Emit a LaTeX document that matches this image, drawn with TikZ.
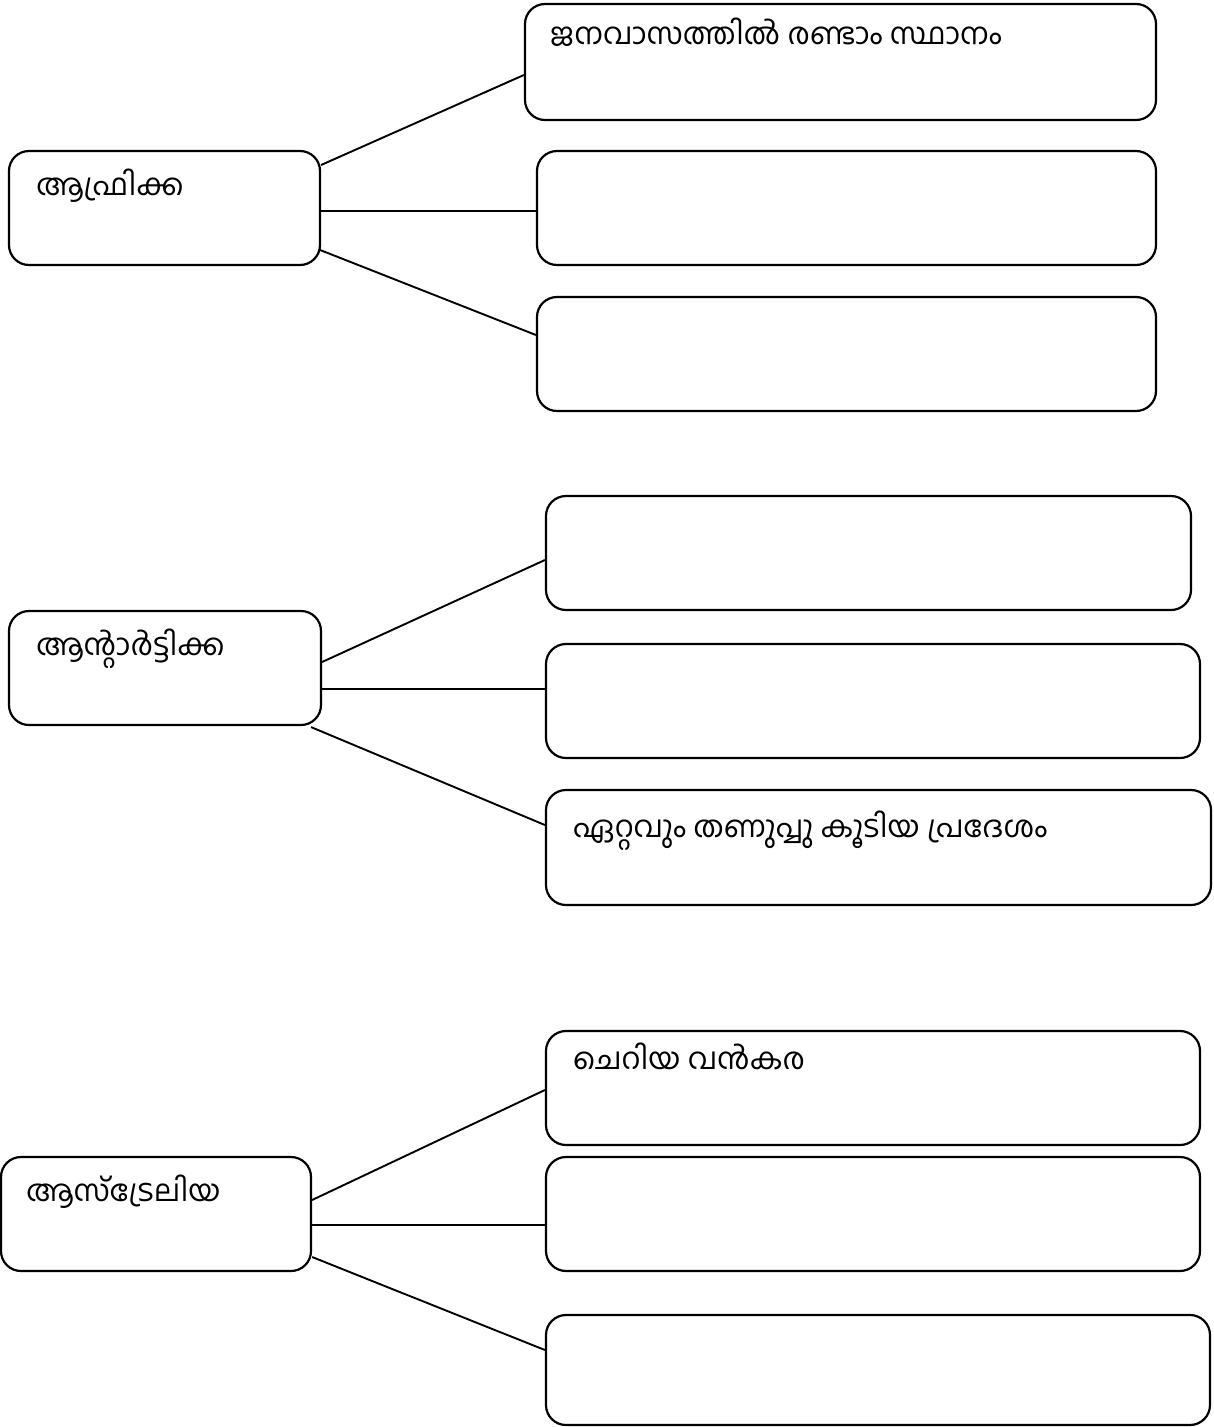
\documentclass[tikz,border=0pt]{standalone}
\usepackage{fontspec}
\newfontfamily\mlfont[Script=Malayalam]{Hind Kochi}
\usetikzlibrary{calc}
\tikzset{
  box/.style={draw, line width=2.2pt, rounded corners=20pt, rectangle, inner sep=0pt},
  conn/.style={draw, line width=1.9pt},
  lbl/.style={anchor=base west, inner sep=0pt, font=\mlfont\fontsize{30}{34}\selectfont}
}
\newcommand{\bx}[5]{\node[box, minimum width=#4pt-#2pt, minimum height=#5pt-#3pt] (#1) at ({(#2+#4)/2},{(#3+#5)/2}) {};}
\begin{document}
\begin{tikzpicture}[x=1pt,y=-1pt]
\useasboundingbox (0,0) rectangle (1214,1427);
% group 1
\bx{A}{9}{151}{320}{265}
\bx{R1}{525}{4}{1156}{120}
\bx{R2}{537}{151}{1156}{265}
\bx{R3}{537}{297}{1156}{411}
% group 2
\bx{B}{9}{611}{321}{725}
\bx{R4}{546}{496}{1191}{610}
\bx{R5}{546}{644}{1200}{758}
\bx{R6}{546}{790}{1211}{905}
% group 3
\bx{C}{1}{1157}{311}{1271}
\bx{R7}{546}{1031}{1200}{1145}
\bx{R8}{546}{1157}{1200}{1271}
\bx{R9}{546}{1315}{1210}{1425}
% connectors
\draw[conn] (A.east |- 0,165) -- (R1.west |- 0,75);
\draw[conn] (A.east |- 0,211) -- (R2.west |- 0,211);
\draw[conn] ($(A.east |- 0,250)+(-1,0)$) -- (R3.west |- 0,335);
\draw[conn] (B.east |- 0,662) -- (R4.west |- 0,560);
\draw[conn] (B.east |- 0,689) -- (R5.west |- 0,689);
\draw[conn] ($(B.south east)+(-11,1)$) -- (R6.west |- 0,825);
\draw[conn] (C.east |- 0,1200) -- (R7.west |- 0,1090);
\draw[conn] (C.east |- 0,1225) -- (R8.west |- 0,1225);
\draw[conn] (C.east |- 0,1257) -- (R9.west |- 0,1350);
% texts
\node[lbl] (tA) at (36,195) {ആഫ്രിക്ക};
\node[lbl] (t1) at (550,44) {ജനവാസത്തിൽ രണ്ടാം സ്ഥാനം};
\node[lbl] (tB) at (36,655) {ആന്റാർട്ടിക്ക};
\node[lbl] (t6) at (573,837) {ഏറ്റവും തണുപ്പു കൂടിയ പ്രദേശം};
\node[lbl] (t7) at (573,1069) {ചെറിയ വൻകര};
\node[lbl] (tC) at (26,1201) {ആസ്‌ട്രേലിയ};
\end{tikzpicture}
\end{document}
